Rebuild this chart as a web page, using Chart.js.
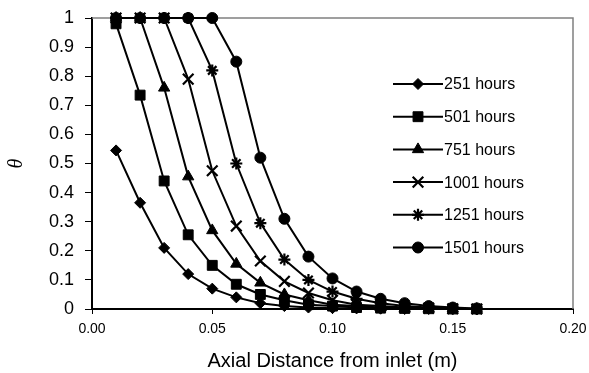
<!DOCTYPE html>
<html>
<head>
<meta charset="utf-8">
<script src="https://cdn.jsdelivr.net/npm/chart.js@4/dist/chart.umd.min.js"></script>
<style>
  html, body { margin: 0; padding: 0; background: #fff; }
  #wrap { width: 589px; height: 373px; }
</style>
</head>
<body>
<div id="wrap"><canvas id="chart"></canvas></div>
<script>
// axial distance (m)
const distances = [0.01, 0.02, 0.03, 0.04, 0.05, 0.06, 0.07, 0.08, 0.09, 0.10, 0.11, 0.12, 0.13, 0.14, 0.15, 0.16];

const seriesLabels = ['251 hours', '501 hours', '751 hours', '1001 hours', '1251 hours', '1501 hours'];
const seriesMarkers = ['rectRot', 'rect', 'triangle', 'crossRot', 'star', 'circle'];
const markerSizes = [5.5, 7, 6.5, 7.5, 6, 5.5];

const theta251  = [0.545, 0.365, 0.21, 0.12, 0.07, 0.04, 0.02, 0.01, 0.005, 0.003, 0.002, 0.001, 0, 0, 0, 0];
const theta501  = [0.98, 0.735, 0.44, 0.255, 0.15, 0.085, 0.05, 0.03, 0.015, 0.01, 0.005, 0.003, 0.002, 0.001, 0, 0];
const theta751  = [1, 1, 0.76, 0.455, 0.27, 0.155, 0.09, 0.05, 0.03, 0.015, 0.01, 0.005, 0.003, 0.002, 0.001, 0];
const theta1001 = [1, 1, 1, 0.79, 0.475, 0.285, 0.165, 0.095, 0.055, 0.03, 0.015, 0.01, 0.005, 0.003, 0.001, 0];
const theta1251 = [1, 1, 1, 1, 0.82, 0.50, 0.295, 0.17, 0.10, 0.06, 0.035, 0.02, 0.01, 0.005, 0.002, 0];
const theta1501 = [1, 1, 1, 1, 1, 0.85, 0.52, 0.31, 0.18, 0.105, 0.06, 0.035, 0.02, 0.01, 0.005, 0.002];

const allSeries = [theta251, theta501, theta751, theta1001, theta1251, theta1501];

const xTicks = [0, 0.05, 0.10, 0.15, 0.20];
const yTicks = [0, 0.1, 0.2, 0.3, 0.4, 0.5, 0.6, 0.7, 0.8, 0.9, 1];

const datasets = allSeries.map((vals, i) => ({
  label: seriesLabels[i],
  data: vals.map((v, j) => ({ x: distances[j], y: v })),
  borderColor: '#000',
  backgroundColor: '#000',
  borderWidth: 2,
  pointStyle: seriesMarkers[i],
  pointRadius: markerSizes[i],
  pointBorderWidth: seriesMarkers[i] === 'crossRot' || seriesMarkers[i] === 'star' ? 2.2 : 1,
  tension: 0,
  clip: false
}));

// gray top/right frame of the plot area
const framePlugin = {
  id: 'frame',
  beforeDatasetsDraw(chart) {
    const { ctx, chartArea: a } = chart;
    ctx.save();
    ctx.strokeStyle = '#808080';
    ctx.lineWidth = 1.5;
    ctx.beginPath();
    ctx.moveTo(a.left, a.top);
    ctx.lineTo(a.right, a.top);
    ctx.lineTo(a.right, a.bottom);
    ctx.stroke();
    ctx.restore();
  }
};

// legend inside the plot area, right side
const insideLegend = {
  id: 'insideLegend',
  afterDraw(chart) {
    const { ctx, chartArea: a } = chart;
    const x0 = a.left + 301, x1 = x0 + 50;
    const y0 = a.top + 66, step = 32.7;
    ctx.save();
    chart.data.datasets.forEach((ds, i) => {
      const y = y0 + i * step;
      ctx.strokeStyle = '#000';
      ctx.lineWidth = 2;
      ctx.beginPath();
      ctx.moveTo(x0, y);
      ctx.lineTo(x1, y);
      ctx.stroke();
      ctx.fillStyle = '#000';
      ctx.lineWidth = ds.pointBorderWidth;
      Chart.helpers.drawPoint(ctx, {
        pointStyle: ds.pointStyle,
        radius: ds.pointRadius,
        rotation: 0,
        borderWidth: ds.pointBorderWidth
      }, (x0 + x1) / 2, y);
      ctx.fillStyle = '#000';
      ctx.font = '16px "Liberation Sans", Arial, sans-serif';
      ctx.textBaseline = 'middle';
      ctx.textAlign = 'left';
      ctx.fillText(ds.label, x1 + 1, y + 1);
    });
    ctx.restore();
  }
};

new Chart(document.getElementById('chart'), {
  type: 'line',
  data: { datasets },
  plugins: [framePlugin, insideLegend],
  options: {
    responsive: true,
    maintainAspectRatio: false,
    animation: false,
    layout: { padding: { top: 18, right: 16, left: 0, bottom: 0 } },
    plugins: {
      legend: { display: false },
      tooltip: { enabled: false }
    },
    scales: {
      x: {
        type: 'linear',
        min: 0,
        max: 0.2,
        afterBuildTicks(scale) { scale.ticks = xTicks.map(v => ({ value: v })); },
        afterFit(scale) {
          scale.height = 64;
          scale.paddingLeft = 0;
          scale.paddingRight = 0;
        },
        ticks: {
          color: '#000',
          font: { family: '"Liberation Sans", Arial, sans-serif', size: 14 },
          padding: 7,
          maxRotation: 0,
          callback: v => v.toFixed(2)
        },
        grid: { drawOnChartArea: false, drawTicks: true, tickLength: 5, color: '#000', lineWidth: 1 },
        border: { display: true, color: '#000', width: 2 },
        title: {
          display: true,
          text: 'Axial Distance from inlet (m)',
          color: '#000',
          font: { family: '"Liberation Sans", Arial, sans-serif', size: 20 },
          padding: { top: 4, bottom: 0 }
        }
      },
      y: {
        min: 0,
        max: 1,
        afterBuildTicks(scale) { scale.ticks = yTicks.map(v => ({ value: v })); },
        afterFit(scale) {
          scale.width = 92;
          scale.paddingTop = 0;
          scale.paddingBottom = 0;
        },
        ticks: {
          color: '#000',
          font: { family: '"Liberation Sans", Arial, sans-serif', size: 18 },
          padding: 11,
          callback: v => String(Math.round(v * 10) / 10)
        },
        grid: { drawOnChartArea: false, drawTicks: true, tickLength: 7, color: '#000', lineWidth: 1 },
        border: { display: true, color: '#000', width: 2 },
        title: {
          display: true,
          text: 'θ',
          color: '#000',
          font: { family: '"Liberation Serif", "Times New Roman", serif', size: 20, style: 'italic' },
          padding: { top: 5, bottom: 0 }
        }
      }
    }
  }
});
</script>
</body>
</html>
